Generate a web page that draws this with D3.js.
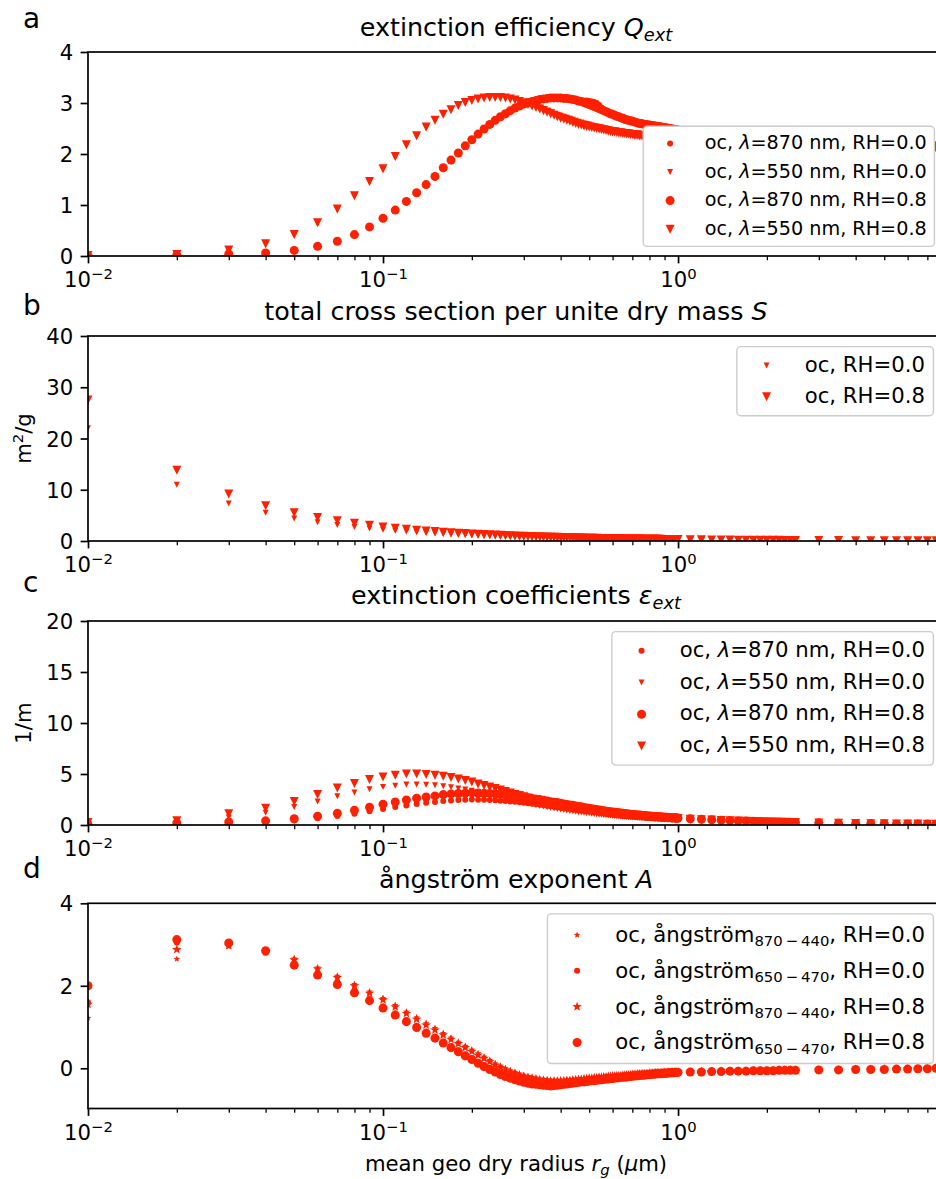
<!DOCTYPE html>
<html>
<head>
<meta charset="utf-8">
<script src="https://cdn.jsdelivr.net/npm/d3@7"></script>
<style>
  body { margin: 0; background: #fff; }
  text { font-family: "DejaVu Sans", sans-serif; fill: #000; }
</style>
</head>
<body>
<svg id="fig" width="936" height="1179"></svg>
<script>
// ---- data: mean geometric dry radius (um)
var radius = [0.01,0.02,0.03,0.04,0.05,0.06,0.07,0.08,0.09,
  0.10,0.11,0.12,0.13,0.14,0.15,0.16,0.17,0.18,0.19,
  0.20,0.21,0.22,0.23,0.24,0.25,0.26,0.27,0.28,0.29,
  0.30,0.31,0.32,0.33,0.34,0.35,0.36,0.37,0.38,0.39,
  0.40,0.41,0.42,0.43,0.44,0.45,0.46,0.47,0.48,0.49,
  0.50,0.51,0.52,0.53,0.54,0.55,0.56,0.57,0.58,0.59,
  0.60,0.61,0.62,0.63,0.64,0.65,0.66,0.67,0.68,0.69,
  0.70,0.71,0.72,0.73,0.74,0.75,0.76,0.77,0.78,0.79,
  0.80,0.81,0.82,0.83,0.84,0.85,0.86,0.87,0.88,0.89,
  0.90,0.91,0.92,0.93,0.94,0.95,0.96,0.97,0.98,0.99,
  1.00,
  1.1,1.2,1.3,1.4,1.5,1.6,1.7,1.8,1.9,2.0,2.1,2.2,2.3,2.4,2.5,
  3.0,3.5,4.0,4.5,5.0,5.5,6.0,6.5,7.0,7.5];

// a: extinction efficiency
var qext870rh0 = [0.00,0.01,0.03,0.05,0.10,0.18,0.28,0.40,0.55,
  0.72,0.88,1.05,1.22,1.38,1.54,1.71,1.86,2.00,2.14,
  2.26,2.37,2.47,2.56,2.64,2.71,2.78,2.84,2.89,2.93,
  2.97,3.00,3.02,3.04,3.06,3.07,3.08,3.09,3.09,3.09,
  3.09,3.08,3.07,3.06,3.05,3.04,3.04,3.04,3.05,3.05,
  3.04,3.03,3.02,3.00,2.96,2.91,2.87,2.84,2.81,2.79,
  2.77,2.75,2.73,2.72,2.70,2.69,2.67,2.66,2.65,2.64,
  2.63,2.62,2.61,2.60,2.59,2.59,2.58,2.57,2.57,2.56,
  2.56,2.55,2.55,2.54,2.54,2.53,2.53,2.52,2.52,2.51,
  2.51,2.50,2.50,2.49,2.49,2.48,2.48,2.47,2.47,2.46,
  2.46,
  2.44,2.42,2.40,2.38,2.36,2.34,2.33,2.32,2.31,2.30,2.29,2.28,2.27,2.26,2.26,
  2.24,2.22,2.21,2.20,2.19,2.18,2.17,2.16,2.16,2.15];
var qext550rh0 = [0.01,0.03,0.10,0.22,0.40,0.63,0.90,1.16,1.44,
  1.69,1.93,2.16,2.34,2.51,2.65,2.77,2.86,2.94,3.00,
  3.05,3.08,3.10,3.11,3.12,3.12,3.11,3.10,3.08,3.06,
  3.03,3.00,2.97,2.94,2.91,2.88,2.85,2.82,2.79,2.77,
  2.75,2.73,2.71,2.69,2.67,2.65,2.63,2.62,2.60,2.59,
  2.58,2.56,2.55,2.54,2.53,2.52,2.51,2.50,2.49,2.48,
  2.47,2.46,2.46,2.45,2.44,2.44,2.43,2.43,2.42,2.42,
  2.41,2.41,2.40,2.40,2.40,2.39,2.39,2.39,2.38,2.38,
  2.38,2.37,2.37,2.37,2.36,2.36,2.36,2.35,2.35,2.35,
  2.34,2.34,2.34,2.33,2.33,2.33,2.32,2.32,2.32,2.31,
  2.31,
  2.30,2.29,2.28,2.27,2.26,2.25,2.25,2.24,2.23,2.23,2.22,2.22,2.21,2.21,2.20,
  2.19,2.18,2.17,2.16,2.15,2.15,2.14,2.14,2.13,2.13];
var qext870rh8 = [0.00,0.02,0.04,0.06,0.11,0.19,0.29,0.42,0.57,
  0.74,0.90,1.07,1.24,1.40,1.56,1.73,1.88,2.02,2.16,
  2.28,2.39,2.49,2.58,2.66,2.73,2.79,2.85,2.90,2.94,
  2.98,3.01,3.03,3.05,3.07,3.08,3.09,3.10,3.10,3.10,
  3.10,3.09,3.09,3.08,3.07,3.06,3.04,3.03,3.01,2.99,
  2.97,2.95,2.93,2.91,2.89,2.87,2.85,2.83,2.81,2.79,
  2.78,2.76,2.74,2.73,2.71,2.70,2.68,2.67,2.66,2.65,
  2.64,2.63,2.62,2.61,2.60,2.60,2.59,2.58,2.58,2.57,
  2.57,2.56,2.56,2.55,2.55,2.54,2.54,2.53,2.53,2.52,
  2.52,2.51,2.51,2.50,2.50,2.49,2.49,2.48,2.48,2.47,
  2.47,
  2.45,2.43,2.41,2.39,2.37,2.35,2.34,2.33,2.32,2.31,2.30,2.29,2.28,2.27,2.27,
  2.25,2.23,2.22,2.21,2.20,2.19,2.18,2.17,2.17,2.16];
var qext550rh8 = [0.01,0.03,0.12,0.24,0.42,0.65,0.92,1.18,1.46,
  1.71,1.95,2.18,2.36,2.53,2.66,2.78,2.87,2.95,3.01,
  3.05,3.08,3.10,3.11,3.11,3.11,3.10,3.08,3.06,3.03,
  3.00,2.97,2.94,2.91,2.88,2.85,2.82,2.79,2.76,2.73,
  2.70,2.68,2.66,2.64,2.62,2.60,2.58,2.57,2.55,2.54,
  2.53,2.52,2.51,2.50,2.49,2.48,2.47,2.46,2.45,2.44,
  2.43,2.43,2.42,2.41,2.41,2.40,2.40,2.39,2.39,2.38,
  2.38,2.37,2.37,2.37,2.36,2.36,2.36,2.35,2.35,2.35,
  2.34,2.34,2.34,2.33,2.33,2.33,2.32,2.32,2.32,2.31,
  2.31,2.31,2.30,2.30,2.30,2.29,2.29,2.29,2.28,2.28,
  2.28,
  2.27,2.26,2.25,2.24,2.24,2.23,2.22,2.22,2.21,2.21,2.20,2.20,2.19,2.19,2.18,
  2.17,2.16,2.15,2.14,2.13,2.13,2.12,2.12,2.11,2.11];

// b: total cross section per unit dry mass (m2/g)
var crossRh0 = [22.0,11.0,7.33,5.50,4.40,3.67,3.14,2.75,2.44,
  2.20,2.00,1.83,1.69,1.57,1.47,1.38,1.29,1.22,1.16,
  1.10,1.05,1.00,0.96,0.92,0.88,0.85,0.81,0.79,0.76,
  0.73,0.71,0.69,0.67,0.65,0.63,0.61,0.59,0.58,0.56,
  0.55,0.54,0.52,0.51,0.50,0.49,0.48,0.47,0.46,0.45,
  0.44,0.43,0.42,0.42,0.41,0.40,0.39,0.39,0.38,0.37,
  0.37,0.36,0.35,0.35,0.34,0.34,0.33,0.33,0.32,0.32,
  0.31,0.31,0.31,0.30,0.30,0.29,0.29,0.29,0.28,0.28,
  0.28,0.27,0.27,0.27,0.26,0.26,0.26,0.25,0.25,0.25,
  0.24,0.24,0.24,0.24,0.23,0.23,0.23,0.23,0.22,0.22,
  0.22,
  0.20,0.18,0.17,0.16,0.15,0.14,0.13,0.12,0.12,0.11,0.10,0.10,0.10,0.09,0.09,
  0.07,0.06,0.06,0.05,0.04,0.04,0.04,0.03,0.03,0.03];
var crossRh8 = [27.5,13.8,9.17,6.88,5.50,4.58,3.93,3.44,3.06,
  2.75,2.50,2.29,2.12,1.96,1.83,1.72,1.62,1.53,1.45,
  1.38,1.31,1.25,1.20,1.15,1.10,1.06,1.02,0.98,0.95,
  0.92,0.89,0.86,0.83,0.81,0.79,0.76,0.74,0.72,0.71,
  0.69,0.67,0.65,0.64,0.63,0.61,0.60,0.59,0.57,0.56,
  0.55,0.54,0.53,0.52,0.51,0.50,0.49,0.48,0.47,0.47,
  0.46,0.45,0.44,0.44,0.43,0.42,0.42,0.41,0.40,0.40,
  0.39,0.39,0.38,0.38,0.37,0.37,0.36,0.36,0.35,0.35,
  0.34,0.34,0.34,0.33,0.33,0.32,0.32,0.32,0.31,0.31,
  0.31,0.30,0.30,0.30,0.29,0.29,0.29,0.28,0.28,0.28,
  0.28,
  0.25,0.23,0.21,0.20,0.18,0.17,0.16,0.15,0.14,0.14,0.13,0.13,0.12,0.11,0.11,
  0.09,0.08,0.07,0.06,0.06,0.05,0.05,0.04,0.04,0.04];

// c: extinction coefficients (1/m)
var eext870rh0 = [0.03,0.11,0.22,0.28,0.44,0.66,0.88,1.10,1.34,
  1.58,1.76,1.92,2.06,2.17,2.26,2.35,2.41,2.44,2.48,
  2.49,2.48,2.47,2.45,2.42,2.38,2.35,2.31,2.27,2.22,
  2.18,2.13,2.08,2.03,1.98,1.93,1.88,1.84,1.79,1.74,
  1.70,1.65,1.61,1.57,1.53,1.49,1.45,1.42,1.40,1.37,
  1.34,1.31,1.28,1.25,1.20,1.16,1.13,1.10,1.07,1.04,
  1.02,0.99,0.97,0.95,0.93,0.91,0.89,0.87,0.86,0.84,
  0.83,0.81,0.80,0.78,0.77,0.76,0.75,0.73,0.72,0.71,
  0.70,0.69,0.68,0.67,0.67,0.66,0.65,0.64,0.63,0.62,
  0.61,0.60,0.60,0.59,0.58,0.57,0.57,0.56,0.55,0.55,
  0.54,
  0.49,0.44,0.41,0.37,0.35,0.32,0.30,0.28,0.27,0.25,0.24,0.23,0.22,0.21,0.20,
  0.16,0.14,0.12,0.11,0.10,0.09,0.08,0.07,0.07,0.06];
var eext550rh0 = [0.15,0.33,0.73,1.21,1.76,2.31,2.83,3.19,3.51,
  3.72,3.86,3.96,3.96,3.94,3.89,3.81,3.70,3.59,3.47,
  3.36,3.23,3.10,2.98,2.86,2.75,2.63,2.53,2.42,2.32,
  2.22,2.13,2.04,1.96,1.88,1.81,1.74,1.68,1.62,1.56,
  1.51,1.47,1.42,1.38,1.34,1.30,1.26,1.23,1.19,1.16,
  1.14,1.10,1.08,1.05,1.03,1.01,0.99,0.97,0.94,0.93,
  0.91,0.89,0.87,0.86,0.84,0.82,0.81,0.80,0.78,0.77,
  0.76,0.75,0.73,0.72,0.71,0.70,0.69,0.68,0.67,0.66,
  0.65,0.64,0.64,0.63,0.62,0.61,0.60,0.59,0.59,0.58,
  0.57,0.57,0.56,0.55,0.55,0.54,0.53,0.53,0.52,0.51,
  0.51,
  0.46,0.42,0.39,0.36,0.33,0.31,0.29,0.27,0.26,0.25,0.23,0.22,0.21,0.20,0.19,
  0.16,0.14,0.12,0.11,0.10,0.09,0.08,0.07,0.07,0.06];
var eext870rh8 = [0.05,0.20,0.30,0.41,0.61,0.87,1.14,1.44,1.74,
  2.04,2.25,2.45,2.63,2.74,2.85,2.98,3.05,3.09,3.13,
  3.15,3.13,3.11,3.10,3.06,3.00,2.96,2.91,2.84,2.79,
  2.74,2.68,2.61,2.53,2.49,2.43,2.35,2.29,2.23,2.20,
  2.14,2.07,2.01,1.97,1.93,1.87,1.82,1.79,1.72,1.67,
  1.63,1.59,1.55,1.51,1.47,1.44,1.40,1.36,1.32,1.30,
  1.27,1.24,1.22,1.19,1.17,1.14,1.12,1.10,1.08,1.06,
  1.04,1.02,1.00,0.98,0.97,0.95,0.94,0.92,0.91,0.89,
  0.88,0.87,0.86,0.84,0.83,0.82,0.81,0.80,0.79,0.78,
  0.77,0.76,0.75,0.74,0.73,0.72,0.71,0.70,0.70,0.69,
  0.68,
  0.61,0.56,0.51,0.47,0.43,0.40,0.38,0.36,0.34,0.32,0.30,0.29,0.27,0.26,0.25,
  0.21,0.18,0.15,0.14,0.12,0.11,0.10,0.09,0.09,0.08];
var eext550rh8 = [0.25,0.41,1.10,1.65,2.31,2.98,3.62,4.06,4.47,
  4.70,4.88,4.99,5.00,4.96,4.87,4.78,4.65,4.51,4.36,
  4.21,4.03,3.88,3.73,3.58,3.42,3.29,3.14,3.00,2.88,
  2.76,2.64,2.53,2.42,2.33,2.25,2.14,2.06,1.99,1.94,
  1.86,1.80,1.73,1.69,1.65,1.59,1.55,1.52,1.45,1.42,
  1.39,1.36,1.33,1.30,1.27,1.24,1.21,1.18,1.15,1.13,
  1.12,1.09,1.06,1.05,1.04,1.01,1.00,0.98,0.96,0.95,
  0.93,0.92,0.90,0.89,0.87,0.87,0.85,0.84,0.82,0.81,
  0.80,0.79,0.79,0.77,0.76,0.75,0.74,0.74,0.72,0.72,
  0.71,0.70,0.69,0.69,0.68,0.67,0.66,0.65,0.64,0.64,
  0.63,
  0.57,0.52,0.48,0.44,0.41,0.38,0.36,0.34,0.32,0.30,0.29,0.28,0.26,0.25,0.24,
  0.20,0.17,0.15,0.13,0.12,0.11,0.10,0.09,0.08,0.08];

// d: angstrom exponent
var ang870440rh0 = [1.22,2.65,2.95,2.80,2.66,2.44,2.24,2.04,1.86,
  1.70,1.53,1.37,1.23,1.09,0.97,0.85,0.74,0.64,0.54,
  0.45,0.36,0.28,0.20,0.12,0.06,0.00,-0.05,-0.09,-0.13,
  -0.16,-0.19,-0.21,-0.23,-0.25,-0.26,-0.27,-0.28,-0.28,-0.28,
  -0.28,-0.28,-0.27,-0.27,-0.26,-0.26,-0.25,-0.25,-0.24,-0.24,
  -0.23,-0.23,-0.22,-0.22,-0.21,-0.21,-0.20,-0.20,-0.19,-0.19,
  -0.18,-0.18,-0.17,-0.17,-0.17,-0.16,-0.16,-0.15,-0.15,-0.15,
  -0.14,-0.14,-0.14,-0.13,-0.13,-0.13,-0.12,-0.12,-0.12,-0.12,
  -0.11,-0.11,-0.11,-0.11,-0.10,-0.10,-0.10,-0.10,-0.10,-0.09,
  -0.09,-0.09,-0.09,-0.09,-0.09,-0.08,-0.08,-0.08,-0.08,-0.08,
  -0.08,
  -0.08,-0.07,-0.07,-0.06,-0.06,-0.06,-0.05,-0.05,-0.05,-0.05,-0.04,-0.04,-0.04,-0.04,-0.04,
  -0.03,-0.03,-0.02,-0.02,-0.01,-0.01,0.00,0.00,0.01,0.02];
var ang650470rh0 = [1.60,3.05,3.00,2.80,2.55,2.30,2.08,1.87,1.68,
  1.50,1.33,1.17,1.03,0.89,0.77,0.65,0.54,0.44,0.34,
  0.25,0.16,0.08,0.01,-0.05,-0.11,-0.16,-0.20,-0.24,-0.27,
  -0.30,-0.32,-0.34,-0.35,-0.36,-0.37,-0.38,-0.38,-0.38,-0.37,
  -0.36,-0.35,-0.34,-0.33,-0.33,-0.32,-0.31,-0.30,-0.30,-0.29,
  -0.28,-0.28,-0.27,-0.26,-0.26,-0.25,-0.25,-0.24,-0.24,-0.23,
  -0.23,-0.22,-0.22,-0.21,-0.21,-0.20,-0.20,-0.19,-0.19,-0.18,
  -0.18,-0.17,-0.17,-0.17,-0.16,-0.16,-0.15,-0.15,-0.15,-0.14,
  -0.14,-0.14,-0.13,-0.13,-0.13,-0.12,-0.12,-0.12,-0.12,-0.11,
  -0.11,-0.11,-0.11,-0.11,-0.10,-0.10,-0.10,-0.10,-0.10,-0.09,
  -0.09,
  -0.09,-0.08,-0.08,-0.07,-0.07,-0.07,-0.06,-0.06,-0.06,-0.05,-0.05,-0.05,-0.05,-0.05,-0.04,
  -0.04,-0.03,-0.03,-0.03,-0.02,-0.02,-0.01,-0.01,0.00,0.01];
var ang870440rh8 = [1.55,2.88,2.98,2.83,2.63,2.41,2.20,2.00,1.82,
  1.66,1.49,1.33,1.19,1.05,0.93,0.81,0.70,0.60,0.50,
  0.41,0.32,0.24,0.16,0.08,0.02,-0.04,-0.09,-0.13,-0.17,
  -0.20,-0.23,-0.25,-0.27,-0.29,-0.30,-0.31,-0.32,-0.32,-0.32,
  -0.31,-0.31,-0.30,-0.30,-0.29,-0.28,-0.27,-0.27,-0.26,-0.25,
  -0.24,-0.24,-0.23,-0.23,-0.22,-0.22,-0.21,-0.21,-0.20,-0.20,
  -0.19,-0.19,-0.18,-0.18,-0.18,-0.17,-0.17,-0.16,-0.16,-0.16,
  -0.15,-0.15,-0.15,-0.14,-0.14,-0.14,-0.13,-0.13,-0.13,-0.13,
  -0.12,-0.12,-0.12,-0.12,-0.11,-0.11,-0.11,-0.11,-0.11,-0.10,
  -0.10,-0.10,-0.10,-0.10,-0.10,-0.10,-0.09,-0.09,-0.09,-0.09,
  -0.09,
  -0.09,-0.08,-0.08,-0.07,-0.07,-0.07,-0.06,-0.06,-0.06,-0.06,-0.05,-0.05,-0.05,-0.05,-0.05,
  -0.04,-0.04,-0.03,-0.03,-0.02,-0.02,-0.01,-0.01,0.00,0.01];
var ang650470rh8 = [2.00,3.12,3.04,2.85,2.50,2.26,2.03,1.83,1.64,
  1.46,1.29,1.13,0.99,0.85,0.73,0.61,0.50,0.40,0.30,
  0.21,0.12,0.04,-0.03,-0.09,-0.15,-0.20,-0.24,-0.28,-0.31,
  -0.34,-0.36,-0.38,-0.39,-0.40,-0.41,-0.42,-0.43,-0.42,-0.41,
  -0.40,-0.39,-0.38,-0.37,-0.36,-0.35,-0.34,-0.33,-0.33,-0.32,
  -0.31,-0.30,-0.30,-0.29,-0.28,-0.28,-0.27,-0.26,-0.26,-0.25,
  -0.25,-0.24,-0.23,-0.23,-0.22,-0.22,-0.21,-0.21,-0.20,-0.20,
  -0.19,-0.19,-0.18,-0.18,-0.17,-0.17,-0.17,-0.16,-0.16,-0.15,
  -0.15,-0.15,-0.14,-0.14,-0.14,-0.13,-0.13,-0.13,-0.13,-0.12,
  -0.12,-0.12,-0.12,-0.11,-0.11,-0.11,-0.11,-0.11,-0.10,-0.10,
  -0.10,
  -0.09,-0.09,-0.08,-0.08,-0.07,-0.07,-0.07,-0.06,-0.06,-0.06,-0.06,-0.05,-0.05,-0.05,-0.05,
  -0.04,-0.04,-0.03,-0.03,-0.03,-0.02,-0.02,-0.01,-0.01,0.00];

// ticks
var xMajor = [0.01, 0.1, 1];
var xMajorExp = ["\u22122", "\u22121", "0"];
var yTicksA = [0, 1, 2, 3, 4];
var yTicksB = [0, 10, 20, 30, 40];
var yTicksC = [0, 5, 10, 15, 20];
var yTicksD = [0, 2, 4];

// ---- drawing
var red = "#ff2000";
var svg = d3.select("#fig");
var plotL = 88, plotR = 944;
var x = d3.scaleLog().domain([0.01, 7.97]).range([plotL, plotR]);
var tickFs = 21.2, titleFs = 25.4;

var xMinor = [];
[0.01, 0.1, 1].forEach(function (d) {
  for (var m = 2; m <= 9; m++) if (m * d <= 7.97) xMinor.push(m * d);
});

function rich(sel, segs, fs) {
  var shift = 0;
  segs.forEach(function (s) {
    var target = s.sub ? fs * 0.2 : (s.sup ? -fs * 0.36 : 0);
    var ts = sel.append("tspan").text(s.t).attr("dy", target - shift);
    shift = target;
    if (s.sub || s.sup) ts.attr("font-size", fs * 0.7);
    if (s.it) ts.attr("font-style", "italic");
  });
}

function markerPath(shape, d) {
  var r = d / 2;
  if (shape === "circle") return d3.symbol(d3.symbolCircle, Math.PI * r * r)();
  if (shape === "tri") return "M" + (-r) + "," + (-r) + "L" + r + "," + (-r) + "L0," + r + "Z";
  var p = [];
  for (var i = 0; i < 10; i++) {
    var rr = i % 2 ? r * 0.42 : r;
    var a = -Math.PI / 2 + i * Math.PI / 5;
    p.push([rr * Math.cos(a), rr * Math.sin(a)]);
  }
  return "M" + p.join("L") + "Z";
}

function panel(p) {
  var y = d3.scaleLinear().domain(p.yDomain).range([p.bottom, p.top]);
  var clipId = "clip-" + p.id;
  svg.append("clipPath").attr("id", clipId).append("rect")
    .attr("x", plotL).attr("y", p.top)
    .attr("width", plotR - plotL).attr("height", p.bottom - p.top);

  var marks = svg.append("g").attr("clip-path", "url(#" + clipId + ")");
  p.series.forEach(function (s) {
    marks.append("g").selectAll("path")
      .data(s.ys.map(function (v, i) { return [radius[i], v]; }))
      .enter().append("path")
      .attr("transform", function (d) { return "translate(" + x(d[0]) + "," + y(d[1]) + ")"; })
      .attr("d", markerPath(s.shape, s.size))
      .attr("fill", red);
  });

  // spines
  var sp = svg.append("g").attr("stroke", "#000").attr("stroke-width", 1.7).attr("fill", "none");
  sp.append("rect").attr("x", plotL).attr("y", p.top)
    .attr("width", plotR - plotL).attr("height", p.bottom - p.top);

  // x axis: major, minor ticks
  var xa = svg.append("g").attr("transform", "translate(0," + p.bottom + ")")
    .call(d3.axisBottom(x).tickValues(xMajor).tickSize(7.4).tickFormat(""));
  xa.select(".domain").remove();
  xa.selectAll(".tick line").attr("stroke-width", 1.7);
  xa.selectAll(".tick").append("text")
    .attr("y", 31).attr("text-anchor", "middle").attr("font-size", tickFs)
    .each(function (d, i) {
      rich(d3.select(this), [{ t: "10" }, { t: xMajorExp[i], sup: true }], tickFs);
    });
  var xm = svg.append("g").attr("transform", "translate(0," + p.bottom + ")")
    .call(d3.axisBottom(x).tickValues(xMinor).tickSize(4.2).tickFormat(""));
  xm.select(".domain").remove();
  xm.selectAll(".tick line").attr("stroke-width", 1.27);

  // y axis
  var ya = svg.append("g").attr("transform", "translate(" + plotL + ",0)")
    .call(d3.axisLeft(y).tickValues(p.yTicks).tickSize(7.4).tickPadding(7.4)
      .tickFormat(d3.format("d")));
  ya.select(".domain").remove();
  ya.selectAll(".tick line").attr("stroke-width", 1.7);
  ya.selectAll(".tick text").attr("font-size", tickFs)
    .attr("font-family", "DejaVu Sans").attr("dy", "0.36em");

  // title
  var t = svg.append("text").attr("x", (plotL + plotR) / 2).attr("y", p.titleY)
    .attr("text-anchor", "middle").attr("font-size", titleFs);
  rich(t, p.title, titleFs);

  // panel letter
  svg.append("text").attr("x", 23).attr("y", p.letterY)
    .attr("font-size", 28).text(p.letter);

  if (p.ylabel) {
    var yl = svg.append("text").attr("font-size", tickFs).attr("text-anchor", "middle")
      .attr("transform", "translate(31," + (p.top + p.bottom) / 2 + ") rotate(-90)");
    rich(yl, p.ylabel, tickFs);
  }

  legend(p);
}

function legend(p) {
  var L = p.legend, fs = L.fs;
  var g = svg.append("g");
  var box = g.append("rect");
  var texts = p.series.map(function (s) {
    var t = g.append("text").attr("font-size", fs);
    rich(t, s.label, fs);
    return t;
  });
  var tw = d3.max(texts, function (t) { return t.node().getBBox().width; });
  var n = texts.length, pad = 0.4 * fs, eh = L.eh * fs, gap = 0.5 * fs;
  var bw = 2 * pad + 2.8 * fs + tw, bh = 2 * pad + n * eh + (n - 1) * gap;
  var bx = plotR - 0.5 * fs - bw;
  var by = L.loc === "lower" ? p.bottom - 0.5 * fs - bh : p.top + 0.5 * fs;
  box.attr("x", bx).attr("y", by).attr("width", bw).attr("height", bh)
    .attr("rx", 4).attr("fill", "#fff")
    .attr("stroke", "#cccccc").attr("stroke-width", 1.4);
  texts.forEach(function (t, i) {
    var cy = by + pad + eh / 2 + i * (eh + gap);
    t.attr("x", bx + pad + 2.8 * fs).attr("y", cy + L.base * fs);
    g.append("path").attr("transform", "translate(" + (bx + pad + fs) + "," + cy + ")")
      .attr("d", markerPath(p.series[i].shape, p.series[i].size)).attr("fill", red);
  });
}

function lam(nm, rh) {
  return [{ t: "oc, " }, { t: "\u03bb", it: true }, { t: "=" + nm + " nm, RH=" + rh }];
}
function ang(sub, rh) {
  return [{ t: "oc, \u00e5ngstr\u00f6m" }, { t: sub, sub: true }, { t: ", RH=" + rh }];
}

var SM = 6, BG = 9;

panel({
  id: "a", letter: "a", letterY: 28, top: 52, bottom: 256, yDomain: [0, 4], yTicks: yTicksA,
  titleY: 36,
  title: [{ t: "extinction efficiency " }, { t: "Q", it: true }, { t: "ext", it: true, sub: true }],
  series: [
    { ys: qext870rh0, shape: "circle", size: SM, label: lam(870, "0.0") },
    { ys: qext550rh0, shape: "tri", size: SM, label: lam(550, "0.0") },
    { ys: qext870rh8, shape: "circle", size: BG, label: lam(870, "0.8") },
    { ys: qext550rh8, shape: "tri", size: BG, label: lam(550, "0.8") }
  ],
  legend: { fs: 19.2, loc: "lower", eh: 0.99, base: 0.29 }
});

panel({
  id: "b", letter: "b", letterY: 315, top: 336, bottom: 541, yDomain: [0, 40], yTicks: yTicksB,
  titleY: 320,
  title: [{ t: "total cross section per unite dry mass " }, { t: "S", it: true }],
  ylabel: [{ t: "m" }, { t: "2", sup: true }, { t: "/g" }],
  series: [
    { ys: crossRh0, shape: "tri", size: SM, label: [{ t: "oc, RH=0.0" }] },
    { ys: crossRh8, shape: "tri", size: BG, label: [{ t: "oc, RH=0.8" }] }
  ],
  legend: { fs: 21.2, loc: "upper", eh: 0.98, base: 0.29 }
});

panel({
  id: "c", letter: "c", letterY: 592, top: 621, bottom: 825, yDomain: [0, 20], yTicks: yTicksC,
  titleY: 604,
  title: [{ t: "extinction coefficients " }, { t: "\u03b5", it: true }, { t: "ext", it: true, sub: true }],
  ylabel: [{ t: "1/m" }],
  series: [
    { ys: eext870rh0, shape: "circle", size: SM, label: lam(870, "0.0") },
    { ys: eext550rh0, shape: "tri", size: SM, label: lam(550, "0.0") },
    { ys: eext870rh8, shape: "circle", size: BG, label: lam(870, "0.8") },
    { ys: eext550rh8, shape: "tri", size: BG, label: lam(550, "0.8") }
  ],
  legend: { fs: 21.2, loc: "upper", eh: 1.0, base: 0.29 }
});

panel({
  id: "d", letter: "d", letterY: 878, top: 903.3, bottom: 1108.5, yDomain: [-0.975, 4], yTicks: yTicksD,
  titleY: 888,
  title: [{ t: "\u00e5ngstr\u00f6m exponent " }, { t: "A", it: true }],
  series: [
    { ys: ang870440rh0, shape: "star", size: SM + 1, label: ang("870\u2009\u2212\u2009440", "0.0") },
    { ys: ang650470rh0, shape: "circle", size: SM, label: ang("650\u2009\u2212\u2009470", "0.0") },
    { ys: ang870440rh8, shape: "star", size: BG + 1, label: ang("870\u2009\u2212\u2009440", "0.8") },
    { ys: ang650470rh8, shape: "circle", size: BG, label: ang("650\u2009\u2212\u2009470", "0.8") }
  ],
  legend: { fs: 21.2, loc: "upper", eh: 1.19, base: 0.33 }
});

// x label
var xl = svg.append("text").attr("x", (plotL + plotR) / 2).attr("y", 1171)
  .attr("text-anchor", "middle").attr("font-size", tickFs);
rich(xl, [{ t: "mean geo dry radius " }, { t: "r", it: true }, { t: "g", it: true, sub: true },
  { t: " (" }, { t: "\u03bc", it: true }, { t: "m)" }], tickFs);
</script>
</body>
</html>
